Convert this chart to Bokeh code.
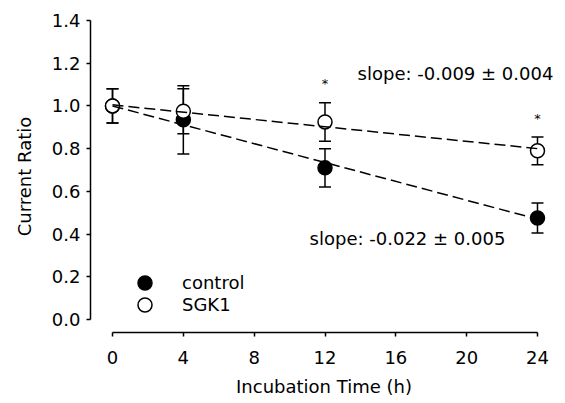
from bokeh.plotting import figure
from bokeh.models import (ColumnDataSource, Whisker, TeeHead, FixedTicker, NumeralTickFormatter,
                          Legend, LegendItem, Range1d)
from bokeh.core.properties import value
from bokeh.embed import file_html
from bokeh.resources import INLINE

# ---- data ----
times = [0, 4, 12, 24]
control_mean = [1.00, 0.935, 0.71, 0.475]
control_sem = [0.08, 0.16, 0.09, 0.07]
sgk1_mean = [1.00, 0.975, 0.925, 0.79]
sgk1_sem = [0.08, 0.105, 0.09, 0.065]

fit_x = [0, 24]
control_fit = [1.00, 0.47]
sgk1_fit = [1.005, 0.80]

star_x = [12, 24]
star_y = [1.106, 0.94]

slope_labels = ["slope: -0.009 \u00b1 0.004", "slope: -0.022 \u00b1 0.005"]
slope_x = [13.84, 11.13]
slope_y = [1.154, 0.381]

x_ticks = [0, 4, 8, 12, 16, 20, 24]
y_ticks = [0.0, 0.2, 0.4, 0.6, 0.8, 1.0, 1.2, 1.4]

FONT = "DejaVu Sans"
FS = "18px"

p = figure(frame_width=467, frame_height=312, output_backend="svg", toolbar_location=None,
           x_range=Range1d(-1.243, 25.13), y_range=Range1d(-0.0608, 1.4),
           min_border_left=90, min_border_right=0, min_border_top=20, min_border_bottom=60)
p.outline_line_color = None
p.xgrid.visible = False
p.ygrid.visible = False
p.background_fill_color = "white"
p.border_fill_color = "white"

ctrl = ColumnDataSource(dict(x=times, y=control_mean,
                             lo=[m - s for m, s in zip(control_mean, control_sem)],
                             hi=[m + s for m, s in zip(control_mean, control_sem)]))
sgk = ColumnDataSource(dict(x=times, y=sgk1_mean,
                            lo=[m - s for m, s in zip(sgk1_mean, sgk1_sem)],
                            hi=[m + s for m, s in zip(sgk1_mean, sgk1_sem)]))

for src in (ctrl, sgk):
    w = Whisker(source=src, base="x", upper="hi", lower="lo", dimension="height",
                line_color="black", line_width=1.5,
                upper_head=TeeHead(size=12, line_color="black", line_width=1.5),
                lower_head=TeeHead(size=12, line_color="black", line_width=1.5))
    p.add_layout(w)

r_ctrl = p.scatter("x", "y", source=ctrl, size=14, fill_color="black", line_color="black",
                   line_width=1.5)
r_sgk = p.scatter("x", "y", source=sgk, size=14, fill_color="white", line_color="black",
                  line_width=1.5)

p.line(fit_x, control_fit, line_color="black", line_width=1.5, line_dash="11 5")
p.line(fit_x, sgk1_fit, line_color="black", line_width=1.5, line_dash="11 5")

p.text(star_x, star_y, text=["*", "*"], text_align="center", text_baseline="middle",
       text_font=value(FONT), text_font_size="13px", text_color="black")

p.text(slope_x, slope_y, text=slope_labels, text_align="left", text_baseline="middle",
       text_font=value(FONT), text_font_size=FS, text_color="black")

# axes
for ax in (p.xaxis[0], p.yaxis[0]):
    ax.axis_line_width = 1.5
    ax.major_tick_line_width = 1.5
    ax.major_tick_in = 0
    ax.major_tick_out = 4
    ax.minor_tick_line_color = None
    ax.major_label_text_font = FONT
    ax.major_label_text_font_size = FS
    ax.major_label_text_color = "black"
    ax.axis_label_text_font = FONT
    ax.axis_label_text_font_size = FS
    ax.axis_label_text_font_style = "normal"
    ax.axis_label_text_color = "black"
    ax.axis_line_color = "black"
    ax.major_tick_line_color = "black"

p.xaxis.ticker = FixedTicker(ticks=x_ticks)
p.xaxis.bounds = (0, 24)
p.xaxis.axis_label = "Incubation Time (h)"
p.xaxis.major_label_standoff = 14
p.xaxis.axis_label_standoff = 9

p.yaxis.ticker = FixedTicker(ticks=y_ticks)
p.yaxis.formatter = NumeralTickFormatter(format="0.0")
p.yaxis.bounds = (0, 1.4)
p.yaxis.axis_label = "Current Ratio"
p.yaxis.major_label_standoff = 6
p.yaxis.axis_label_standoff = 14

legend_style = dict(orientation="vertical", glyph_width=35, glyph_height=35, label_height=35,
                    label_standoff=20, padding=0, margin=0,
                    border_line_color=None, background_fill_alpha=0,
                    label_text_font=FONT, label_text_font_size=FS, label_text_color="black")
legend1 = Legend(items=[LegendItem(label="control", renderers=[r_ctrl])],
                 location=(37, 32), **legend_style)
legend2 = Legend(items=[LegendItem(label="SGK1", renderers=[r_sgk])],
                 location=(37, 10), **legend_style)
p.add_layout(legend1)
p.add_layout(legend2)

open("out.html", "w").write(file_html(p, INLINE))
